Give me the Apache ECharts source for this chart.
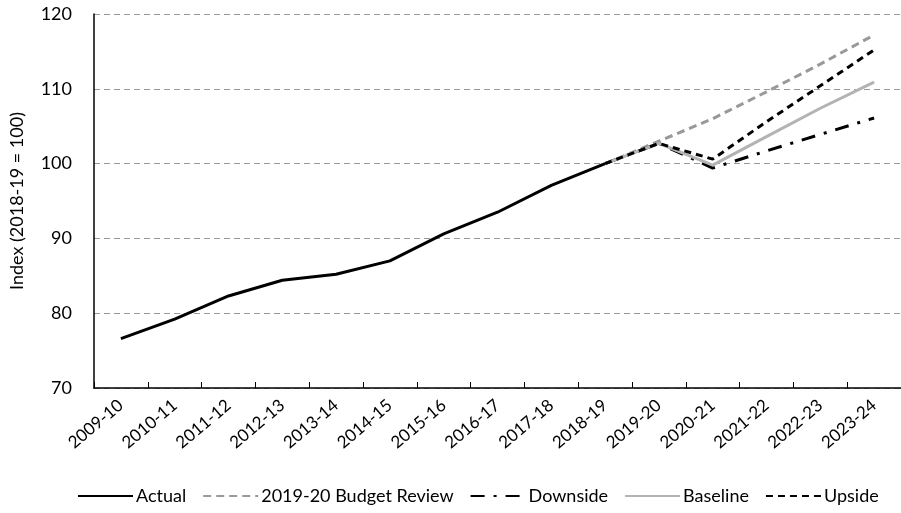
<!DOCTYPE html>
<html lang="en" style="height: 100%">
<head>
  <meta charset="utf-8">
</head>
<body style="height: 100%; margin: 0; background: #fff">
  <div id="container" style="width: 901px; height: 513px"></div>

  <script type="text/javascript" src="https://fastly.jsdelivr.net/npm/echarts@6/dist/echarts.min.js"></script>
  <script type="text/javascript">
    var years = ['2009-10', '2010-11', '2011-12', '2012-13', '2013-14', '2014-15', '2015-16', '2016-17',
      '2017-18', '2018-19', '2019-20', '2020-21', '2021-22', '2022-23', '2023-24'];
    var actual = [76.6, 79.2, 82.3, 84.4, 85.2, 87.0, 90.6, 93.5, 97.1, 100, null, null, null, null, null];
    var budgetReview = [null, null, null, null, null, null, null, null, null, 100, 103.0, 106.0, 109.6, 113.3, 117.2];
    var downside = [null, null, null, null, null, null, null, null, null, 100, 102.7, 99.4, 101.7, 103.9, 106.1];
    var baseline = [null, null, null, null, null, null, null, null, null, 100, 102.7, 99.8, 103.6, 107.4, 110.9];
    var upside = [null, null, null, null, null, null, null, null, null, 100, 102.7, 100.6, 105.6, 110.4, 115.2];

    var dom = document.getElementById('container');
    var myChart = echarts.init(dom, null, { renderer: 'canvas' });

    var font = 'Lato, "Open Sans", sans-serif';

    function line(name, data, color, type) {
      return {
        name: name,
        type: 'line',
        data: data,
        symbol: 'none',
        showSymbol: false,
        lineStyle: { color: color, width: 3, type: type },
        itemStyle: { color: color, opacity: 0 }
      };
    }

    var option = {
      animation: false,
      backgroundColor: '#fff',
      grid: { left: 93, top: 14, width: 814, height: 374 },
      legend: {
        top: 482,
        left: 72,
        itemWidth: 55,
        itemHeight: 12,
        itemGap: 16,
        itemStyle: { opacity: 0 },
        textStyle: { fontFamily: font, fontSize: 18, color: '#000', padding: [0, 0, 0, -2] },
        data: ['Actual', '2019-20 Budget Review', 'Downside', 'Baseline', 'Upside']
      },
      xAxis: {
        type: 'category',
        data: years,
        boundaryGap: true,
        axisLine: { lineStyle: { color: '#000', width: 1.5 } },
        axisTick: { show: true, inside: true, interval: 0, length: 6, lineStyle: { color: '#000', width: 1 } },
        axisLabel: { rotate: 40, interval: 0, fontFamily: font, fontSize: 17, color: '#000', margin: 15 }
      },
      yAxis: {
        type: 'value',
        min: 70,
        max: 120,
        interval: 10,
        name: 'Index (2018-19 = 100)',
        nameLocation: 'middle',
        nameGap: 68,
        nameTextStyle: { fontFamily: font, fontSize: 18, color: '#000' },
        axisLine: { show: true, lineStyle: { color: '#000', width: 1.5 } },
        axisTick: { show: false },
        axisLabel: { fontFamily: font, fontSize: 18, color: '#000', margin: 22 },
        splitLine: { lineStyle: { color: '#999', width: 1, type: [6, 4] } }
      },
      series: [
        line('Actual', actual, '#000', 'solid'),
        line('2019-20 Budget Review', budgetReview, '#999', [8, 5]),
        line('Downside', downside, '#000', [14, 9, 3, 9]),
        line('Baseline', baseline, '#b3b3b3', 'solid'),
        line('Upside', upside, '#000', [7, 5])
      ]
    };

    myChart.setOption(option);
    window.addEventListener('resize', myChart.resize);
  </script>
</body>
</html>
